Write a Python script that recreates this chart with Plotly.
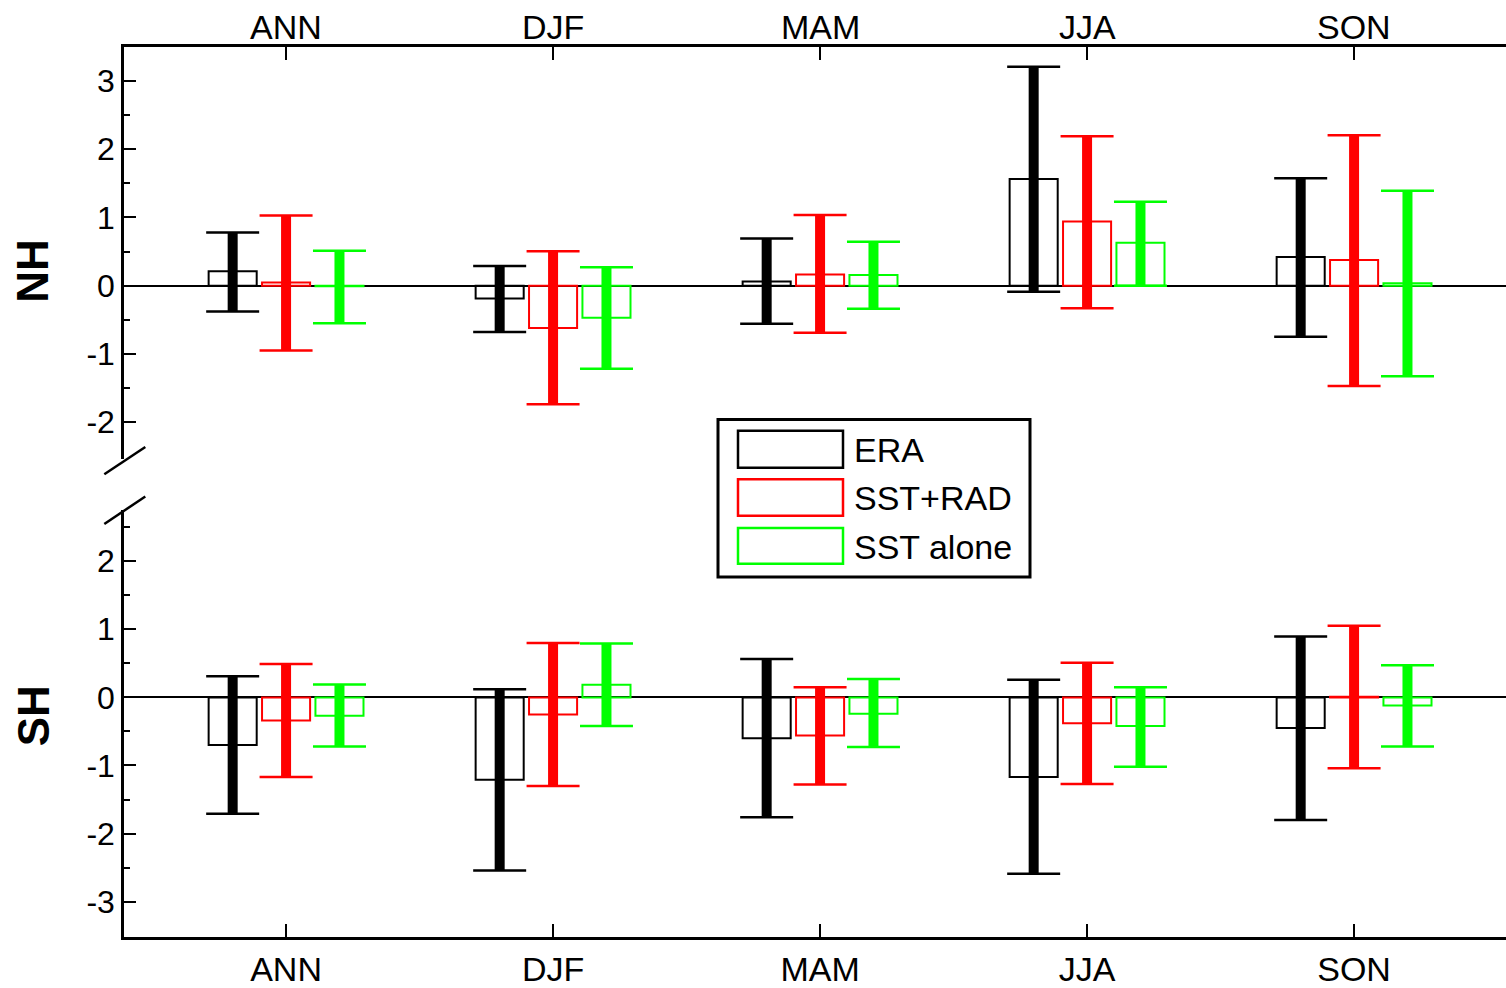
import plotly.graph_objects as go

# ---------------- data ----------------
categories = ["ANN", "DJF", "MAM", "JJA", "SON"]
series_names = ["ERA", "SST+RAD", "SST alone"]
series_colors = ["#000000", "#FF0000", "#00FF00"]

# Northern Hemisphere (top panel)
nh_era_mean = [0.21, -0.19, 0.06, 1.565, 0.42]
nh_era_hi = [0.78, 0.29, 0.69, 3.21, 1.575]
nh_era_lo = [-0.38, -0.68, -0.56, -0.09, -0.75]
nh_rad_mean = [0.045, -0.62, 0.165, 0.94, 0.375]
nh_rad_hi = [1.03, 0.505, 1.035, 2.19, 2.205]
nh_rad_lo = [-0.95, -1.74, -0.69, -0.33, -1.47]
nh_sst_mean = [-0.01, -0.47, 0.155, 0.63, 0.035]
nh_sst_hi = [0.51, 0.27, 0.645, 1.23, 1.39]
nh_sst_lo = [-0.55, -1.22, -0.34, 0.0, -1.33]

# Southern Hemisphere (bottom panel)
sh_era_mean = [-0.70, -1.21, -0.60, -1.17, -0.45]
sh_era_hi = [0.31, 0.12, 0.565, 0.26, 0.895]
sh_era_lo = [-1.71, -2.54, -1.76, -2.59, -1.80]
sh_rad_mean = [-0.34, -0.25, -0.56, -0.38, 0.01]
sh_rad_hi = [0.49, 0.80, 0.15, 0.51, 1.05]
sh_rad_lo = [-1.17, -1.30, -1.28, -1.27, -1.04]
sh_sst_mean = [-0.27, 0.185, -0.24, -0.42, -0.12]
sh_sst_hi = [0.19, 0.79, 0.27, 0.15, 0.47]
sh_sst_lo = [-0.72, -0.42, -0.73, -1.02, -0.72]

nh_ticks = [3, 2, 1, 0, -1, -2]
nh_ticklabels = ["3", "2", "1", "0", "-1", "-2"]
sh_ticks = [2, 1, 0, -1, -2, -3]
sh_ticklabels = ["2", "1", "0", "-1", "-2", "-3"]
panel_labels = ["NH", "SH"]

# ---------------- figure ----------------
W, H = 1506, 988
ML, MR, MT, MB = 124, 0, 47, 46
PW, PH = W - ML - MR, H - MT - MB
FONT = "Liberation Sans, Arial, sans-serif"


def px_x(p):
    return (p - ML) / PW


def px_y(p):
    return (H - MB - p) / PH


fig = go.Figure()

panels = [
    ("x2", "y2", [(nh_era_mean, nh_era_hi, nh_era_lo),
                  (nh_rad_mean, nh_rad_hi, nh_rad_lo),
                  (nh_sst_mean, nh_sst_hi, nh_sst_lo)]),
    ("x", "y", [(sh_era_mean, sh_era_hi, sh_era_lo),
                (sh_rad_mean, sh_rad_hi, sh_rad_lo),
                (sh_sst_mean, sh_sst_hi, sh_sst_lo)]),
]

group_step = 0.2
bar_width = 0.18

for xa, ya, sets in panels:
    for k, (mean, hi, lo) in enumerate(sets):
        c = series_colors[k]
        xs = [i + (k - 1) * group_step for i in range(len(categories))]
        fig.add_trace(go.Bar(
            x=xs, y=mean, width=bar_width, xaxis=xa, yaxis=ya,
            marker=dict(color="rgba(255,255,255,0)", line=dict(color=c, width=2)),
            name=series_names[k], showlegend=False, hoverinfo="skip"))
    for k, (mean, hi, lo) in enumerate(sets):
        c = series_colors[k]
        xs = [i + (k - 1) * group_step for i in range(len(categories))]
        up = [h - m for h, m in zip(hi, mean)]
        dn = [m - l for m, l in zip(mean, lo)]
        # thick stem
        fig.add_trace(go.Scatter(
            x=xs, y=mean, xaxis=xa, yaxis=ya, mode="markers",
            marker=dict(size=1, color="rgba(0,0,0,0)"),
            error_y=dict(type="data", symmetric=False, array=up, arrayminus=dn,
                         color=c, thickness=10, width=0),
            showlegend=False, hoverinfo="skip"))
        # thin caps
        fig.add_trace(go.Scatter(
            x=xs, y=mean, xaxis=xa, yaxis=ya, mode="markers",
            marker=dict(size=1, color="rgba(0,0,0,0)"),
            error_y=dict(type="data", symmetric=False, array=up, arrayminus=dn,
                         color=c, thickness=2.5, width=26.5),
            showlegend=False, hoverinfo="skip"))

xrange = [-0.607, 4.569]
xcommon = dict(
    range=xrange, tickmode="array", tickvals=list(range(len(categories))),
    ticktext=categories, ticks="inside", ticklen=13, tickwidth=2, tickcolor="black",
    showline=True, linewidth=2.5, linecolor="black", mirror=False,
    showgrid=False, zeroline=False,
    tickfont=dict(family=FONT, size=34, color="black"),
)
ycommon = dict(
    ticks="inside", ticklen=12, tickwidth=2, tickcolor="black",
    showline=True, linewidth=2.5, linecolor="black", mirror=False,
    showgrid=False, zeroline=True, zerolinecolor="black", zerolinewidth=2,
    tickfont=dict(family=FONT, size=32, color="black"),
)

top_dom0 = px_y(461.7)
bot_dom1 = px_y(513)

fig.update_layout(
    width=W, height=H,
    margin=dict(l=ML, r=MR, t=MT, b=MB, pad=0),
    paper_bgcolor="white", plot_bgcolor="white",
    barmode="overlay", showlegend=False,
    font=dict(family=FONT, color="black"),
    xaxis=dict(domain=[0, 1], anchor="y", side="bottom", **xcommon),
    xaxis2=dict(domain=[0, 1], anchor="y2", side="top", matches="x",
                showticklabels=False,
                **{k: v for k, v in xcommon.items()}),
    yaxis=dict(domain=[0, bot_dom1], anchor="x", range=[-3.518, 2.745],
               tickmode="array", tickvals=sh_ticks, ticktext=sh_ticklabels,
               minor=dict(tickmode="array", tickvals=[2.5, 1.5, 0.5, -0.5, -1.5, -2.5],
                          ticks="inside", ticklen=6, tickwidth=2, tickcolor="black"),
               **ycommon),
    yaxis2=dict(domain=[top_dom0, 1], anchor="x2", range=[-2.547, 3.499],
                tickmode="array", tickvals=nh_ticks, ticktext=nh_ticklabels,
                minor=dict(tickmode="array", tickvals=[2.5, 1.5, 0.5, -0.5, -1.5],
                           ticks="inside", ticklen=6, tickwidth=2, tickcolor="black"),
                **ycommon),
)

# top category labels (placed with the x2 axis scale)
for i, cat in enumerate(categories):
    fig.add_annotation(text=cat, x=i, xref="x2", y=px_y(27), yref="paper",
                       showarrow=False, xanchor="center", yanchor="middle",
                       font=dict(family=FONT, size=34, color="black"))

# panel labels
fig.add_annotation(text="<b>%s</b>" % panel_labels[0], x=px_x(33), y=px_y(272),
                   xref="paper", yref="paper", showarrow=False, textangle=-90,
                   font=dict(family=FONT, size=44, color="black"),
                   xanchor="center", yanchor="middle")
fig.add_annotation(text="<b>%s</b>" % panel_labels[1], x=px_x(33), y=px_y(719),
                   xref="paper", yref="paper", showarrow=False, textangle=-90,
                   font=dict(family=FONT, size=44, color="black"),
                   xanchor="center", yanchor="middle")

# axis break marks
for (x0, y0, x1, y1) in [(104.3, 476.7, 145.3, 449.3), (104.3, 526.7, 145.3, 499.0)]:
    fig.add_shape(type="line", xref="paper", yref="paper",
                  x0=px_x(x0), y0=px_y(y0), x1=px_x(x1), y1=px_y(y1),
                  line=dict(color="black", width=2.5))

# custom legend
fig.add_shape(type="rect", xref="paper", yref="paper",
              x0=px_x(718), x1=px_x(1030), y0=px_y(580), y1=px_y(421.7),
              line=dict(color="black", width=3), fillcolor="white")
legend_rows = [(433, 470), (481.7, 518.3), (530.7, 566.7)]
for k, (t, b) in enumerate(legend_rows):
    fig.add_shape(type="rect", xref="paper", yref="paper",
                  x0=px_x(738), x1=px_x(843), y0=px_y(b), y1=px_y(t),
                  line=dict(color=series_colors[k], width=2.5), fillcolor="white")
    fig.add_annotation(text=series_names[k], x=px_x(852), y=px_y((t + b) / 2 + 1),
                       xref="paper", yref="paper", showarrow=False,
                       xanchor="left", yanchor="middle",
                       font=dict(family=FONT, size=34, color="black"))

fig.write_html("out.html",
               config={"displayModeBar": False},
               post_script="document.body.style.margin='0';document.body.style.overflow='hidden';")
